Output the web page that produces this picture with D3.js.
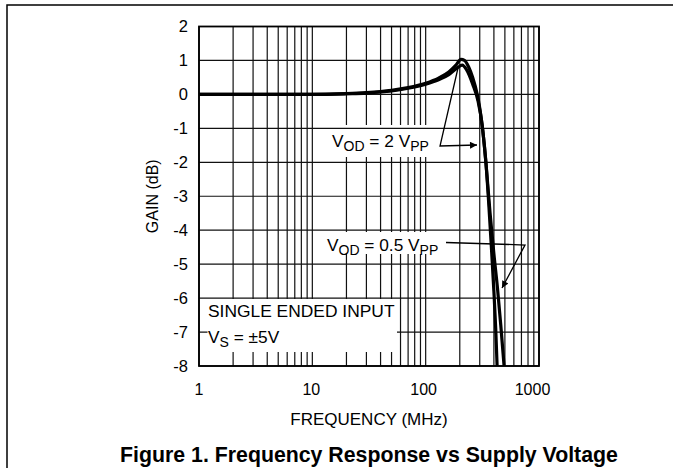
<!DOCTYPE html>
<html>
<head>
<meta charset="utf-8">
<script src="https://cdn.jsdelivr.net/npm/d3@7"></script>
<style>
  body { margin: 0; background: #fff; }
  text { font-family: "Liberation Sans", Arial, sans-serif; fill: #000; }
</style>
</head>
<body>
<svg id="chart" width="673" height="468"></svg>
<script>
// axis ticks
const freqTicks = [1, 10, 100, 1000];
const gainTicks = [2, 1, 0, -1, -2, -3, -4, -5, -6, -7, -8];

// V_OD = 2 Vpp curve
const vod2Freq = [1, 3, 10, 20, 30, 50, 70, 100, 130, 160, 185, 205, 220, 240, 260, 285, 300, 320, 340, 360, 380, 400, 415, 427];
const vod2Gain = [0, 0, 0, 0.02, 0.05, 0.12, 0.2, 0.33, 0.48, 0.66, 0.86, 1.03, 1.0, 0.8, 0.5, 0.0, -0.4, -1.1, -2.0, -3.2, -4.5, -5.8, -6.9, -8.0];

// V_OD = 0.5 Vpp curve
const vod05Freq = [1, 3, 10, 20, 30, 50, 70, 100, 130, 160, 190, 210, 230, 260, 290, 315, 340, 370, 400, 430, 460, 492];
const vod05Gain = [0, 0, 0, 0.02, 0.04, 0.1, 0.18, 0.3, 0.43, 0.58, 0.78, 0.86, 0.72, 0.3, -0.2, -0.9, -2.0, -3.5, -4.7, -5.7, -6.8, -8.0];

const svg = d3.select('#chart');

const x = d3.scaleLog().domain([1, 1000]).range([199, 539]);
const y = d3.scaleLinear().domain([-8, 2]).range([366, 26.5]);

// outer frame
svg.append('rect')
    .attr('x', 7).attr('y', 5)
    .attr('width', 700).attr('height', 500)
    .attr('fill', 'none').attr('stroke', '#000').attr('stroke-width', 1.5);

// vertical grid
svg.append('g').selectAll('line')
    .data(x.ticks())
    .enter()
    .append('line')
    .attr('x1', d => x(d)).attr('x2', d => x(d))
    .attr('y1', y(2)).attr('y2', y(-8))
    .attr('stroke', '#111').attr('stroke-width', 1.2);

// label boxes that hide only vertical lines
svg.append('rect').attr('x', 328).attr('y', 125).attr('width', 110).attr('height', 32).attr('fill', '#fff');
svg.append('rect').attr('x', 322).attr('y', 232).attr('width', 123).attr('height', 22).attr('fill', '#fff');

// horizontal grid
svg.append('g').selectAll('line')
    .data(gainTicks)
    .enter()
    .append('line')
    .attr('x1', x(1)).attr('x2', x(1000))
    .attr('y1', d => y(d)).attr('y2', d => y(d))
    .attr('stroke', '#111').attr('stroke-width', 1.2);

// bottom-left note box
svg.append('rect').attr('x', 207.5).attr('y', 299).attr('width', 189.5).attr('height', 53).attr('fill', '#fff');

// curves
svg.append('clipPath').attr('id', 'plotclip')
    .append('rect')
    .attr('x', x(1)).attr('y', y(2))
    .attr('width', x(1000) - x(1)).attr('height', y(-8) - y(2));

const line = d3.line()
    .x(d => x(d[0]))
    .y(d => y(d[1]))
    .curve(d3.curveMonotoneX);

const curves = [
    d3.zip(vod2Freq, vod2Gain),
    d3.zip(vod05Freq, vod05Gain)
];

svg.append('g').attr('clip-path', 'url(#plotclip)')
    .selectAll('path')
    .data(curves)
    .enter()
    .append('path')
    .attr('d', line)
    .attr('fill', 'none')
    .attr('stroke', '#000')
    .attr('stroke-width', 3.2);

// plot border
svg.append('rect')
    .attr('x', x(1)).attr('y', y(2))
    .attr('width', x(1000) - x(1)).attr('height', y(-8) - y(2))
    .attr('fill', 'none').attr('stroke', '#000').attr('stroke-width', 1.8);

// axes (labels only)
const xAxis = svg.append('g')
    .attr('transform', `translate(0,${y(-8)})`)
    .call(d3.axisBottom(x).tickValues(freqTicks).tickFormat(d => String(d)).tickSize(0).tickPadding(18));
xAxis.select('.domain').remove();
xAxis.selectAll('text')
    .style('font-size', '16px').style('font-family', '"Liberation Sans", Arial, sans-serif')
    .attr('dx', (d, i) => [-0.5, -1.5, -2.5, -7][i]);

const yAxis = svg.append('g')
    .attr('transform', `translate(${x(1)},0)`)
    .call(d3.axisLeft(y).tickValues(gainTicks).tickFormat(d => String(d)).tickSize(0).tickPadding(11));
yAxis.select('.domain').remove();
yAxis.selectAll('text').style('font-size', '16.5px').style('font-family', '"Liberation Sans", Arial, sans-serif');

svg.append('text')
    .attr('x', (x(1) + x(1000)) / 2).attr('y', 425)
    .attr('text-anchor', 'middle')
    .style('font-size', '17px')
    .text('FREQUENCY (MHz)');

svg.append('text')
    .attr('transform', `translate(158,${(y(2) + y(-8)) / 2}) rotate(-90)`)
    .attr('text-anchor', 'middle')
    .style('font-size', '16px')
    .text('GAIN (dB)');

svg.append('text')
    .attr('x', (x(1) + x(1000)) / 2).attr('y', 462)
    .attr('text-anchor', 'middle')
    .style('font-size', '21.3px').style('font-weight', 'bold')
    .text('Figure 1. Frequency Response vs Supply Voltage');

// annotations
const subText = (tx, ty, parts) => {
    const t = svg.append('text').attr('x', tx).attr('y', ty).style('font-size', '17.3px');
    let shift = 0;
    parts.forEach(p => {
        const dy = (p.sub ? 4 : 0) - shift;
        shift = p.sub ? 4 : 0;
        t.append('tspan').attr('dy', dy).style('font-size', p.sub ? '14px' : '17.3px').text(p.t);
    });
    return t;
};

subText(332, 147, [{ t: 'V' }, { t: 'OD', sub: true }, { t: ' = 2 V' }, { t: 'PP', sub: true }]);
subText(327, 251, [{ t: 'V' }, { t: 'OD', sub: true }, { t: ' = 0.5 V' }, { t: 'PP', sub: true }]);

svg.append('text').attr('x', 208).attr('y', 317).style('font-size', '17.4px').text('SINGLE ENDED INPUT');
subText(208, 343, [{ t: 'V' }, { t: 'S', sub: true }, { t: ' = ±5V' }]);

svg.append('defs').append('marker')
    .attr('id', 'arrow')
    .attr('viewBox', '0 0 10 10')
    .attr('refX', 10).attr('refY', 5)
    .attr('markerWidth', 9).attr('markerHeight', 7)
    .attr('markerUnits', 'userSpaceOnUse')
    .attr('orient', 'auto')
    .append('path')
    .attr('d', 'M0,0 L10,5 L0,10 Z')
    .attr('fill', '#000');

svg.append('polyline')
    .attr('points', '458,68 440,146 477,145')
    .attr('fill', 'none').attr('stroke', '#000').attr('stroke-width', 1.3)
    .attr('marker-end', 'url(#arrow)');

svg.append('polyline')
    .attr('points', '446,242.5 525,245 502,288')
    .attr('fill', 'none').attr('stroke', '#000').attr('stroke-width', 1.3)
    .attr('marker-end', 'url(#arrow)');
</script>
</body>
</html>
